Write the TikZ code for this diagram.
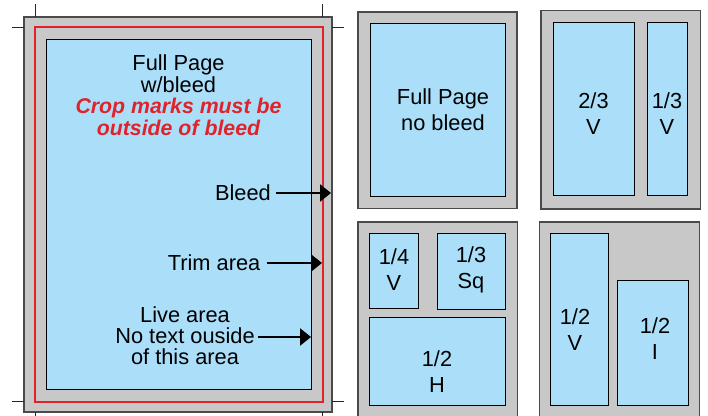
\documentclass[tikz,border=0pt]{standalone}
\usepackage{fontspec}
\setmainfont{Liberation Sans}
\usetikzlibrary{arrows.meta}
\definecolor{paperblue}{HTML}{ABDFF9}
\definecolor{boardgray}{HTML}{C8C8C8}
\definecolor{bleedred}{HTML}{E0232B}
\definecolor{edgegray}{HTML}{4A4A4A}

\begin{document}
\begin{tikzpicture}[x=1pt,y=-1pt,
  board/.style={fill=boardgray,draw=edgegray,line width=1.1pt},
  adbox/.style={draw=black,fill=paperblue,line width=0.8pt,inner sep=0pt,outer sep=0pt,anchor=north west},
  lbl/.style={font=\fontsize{21.8}{26}\selectfont,align=center,inner sep=0pt},
  lbltight/.style={font=\fontsize{21.8}{22}\selectfont,align=center,inner sep=0pt},
  warn/.style={font=\bfseries\itshape\fontsize{21.3}{22}\selectfont,text=bleedred,align=center,inner sep=0pt},
  crop/.style={draw=black!85,line width=0.9pt},
  pointer/.style={line width=2.4pt,-{Triangle[length=11pt,width=17pt]}}]

\useasboundingbox (0,0) rectangle (708,415);
\clip (0,0) rectangle (708,415);
\fill[white] (0,0) rectangle (708,415);

% ---- full page with bleed ----
\path[board] (24,17) rectangle (332,412);
\draw[bleedred,line width=2pt] (34.5,26.5) rectangle (323,401.5);
\node[adbox,minimum width=265.3pt,minimum height=350.3pt] (live) at (46,39) {};

% crop marks
\draw[crop] (35,4) -- (35,17);
\draw[crop] (322,4) -- (322,17);
\draw[crop] (12,27) -- (24,27);
\draw[crop] (332,27) -- (344,27);
\draw[crop] (12,401) -- (24,401);
\draw[crop] (332,401) -- (344,401);
\draw[crop] (35,412) -- (35,425);
\draw[crop] (322,412) -- (322,425);

\node[lbltight] (fpwb) at (178.5,74) {Full Page\\w/bleed};
\node[warn] (cropnote) at (178.5,117) {Crop marks must be\\outside of bleed};

\coordinate (bleedtip) at (331,193);
\coordinate (trimtip) at (322,263);
\coordinate (livetip) at (311,337);

\node[lbltight,anchor=east] (bleedtxt) at (271,193) {Bleed};
\node[lbltight,anchor=east] (trimtxt) at (260.5,263) {Trim area};
\node[font=\fontsize{21.8}{21}\selectfont,align=center,inner sep=0pt] (livetxt) at (185,336) {Live area\\No text ouside\\of this area};

\draw[pointer] ([xshift=5pt]bleedtxt.east) -- (bleedtip);
\draw[pointer] ([xshift=6pt]trimtxt.east) -- (trimtip);
\draw[pointer] ([xshift=3pt]livetxt.east |- livetip) -- (livetip);

% ---- full page, no bleed ----
\path[board] (358,12) rectangle (517,208.5);
\node[adbox,minimum width=135.7pt,minimum height=173pt] (fpnb) at (370,23.7) {};
\node[lbl] (fpnbtxt) at (443,109.5) {Full Page\\no bleed};

% ---- 2/3 and 1/3 vertical ----
\path[board] (541,10.7) rectangle (700.3,209);
\node[adbox,minimum width=80.7pt,minimum height=172.6pt] (twothirds) at (553.3,22.7) {};
\node[adbox,minimum width=39.7pt,minimum height=172.3pt] (onethirdv) at (647.3,22.7) {};
\node[lbl] (twothirdstxt) at (593.5,114) {2/3\\V};
\node[lbl] (onethirdvtxt) at (667,114) {1/3\\V};

% ---- quarter, third square, half horizontal ----
\path[board] (358,222) rectangle (517.3,425);
\node[adbox,minimum width=48.7pt,minimum height=75.4pt] (quarter) at (369.3,233.3) {};
\node[adbox,minimum width=67.3pt,minimum height=76pt] (thirdsq) at (437.7,233.3) {};
\node[adbox,minimum width=135.6pt,minimum height=87.6pt] (halfh) at (369.7,317.7) {};
\node[lbl] (quartertxt) at (394,270) {1/4\\V};
\node[lbl] (thirdsqtxt) at (471,270) {1/3\\Sq};
\node[lbl] (halfhtxt) at (437,372) {1/2\\H};

% ---- half vertical, half island ----
\path[board] (539.3,222) rectangle (699.3,425);
\node[adbox,minimum width=58.7pt,minimum height=171.7pt] (halfv) at (550,233.3) {};
\node[adbox,minimum width=71pt,minimum height=125pt] (halfi) at (617.7,280) {};
\node[lbl] (halfvtxt) at (575,330) {1/2\\V};
\node[lbl] (halfitxt) at (655,339) {1/2\\I};
\end{tikzpicture}
\end{document}
